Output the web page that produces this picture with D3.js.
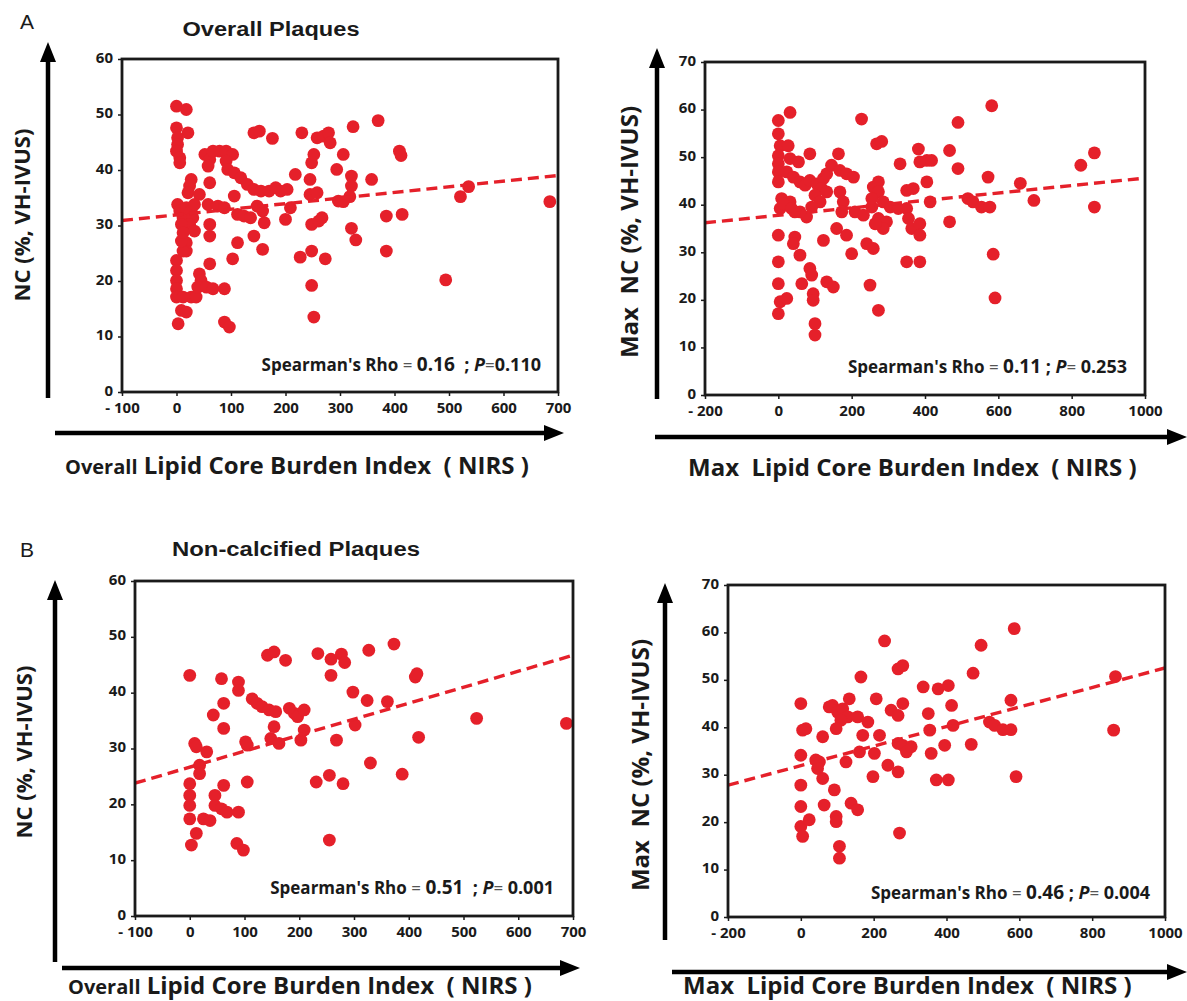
<!DOCTYPE html>
<html><head><meta charset="utf-8">
<script src="https://cdn.jsdelivr.net/npm/d3@7"></script>
<style>body{margin:0;background:#fff}svg{display:block}</style>
</head><body>
<script>
// ---------- DATA ----------
const panelLetters = ["A", "B"];
const panelTitles = ["Overall Plaques", "Non-calcified Plaques"];
const xTicksOverall = [-100, 0, 100, 200, 300, 400, 500, 600, 700];
const xTicksMax = [-200, 0, 200, 400, 600, 800, 1000];
const yTicksNC = [0, 10, 20, 30, 40, 50, 60];
const yTicksMaxNC = [0, 10, 20, 30, 40, 50, 60, 70];
const yLabels = ["NC (%, VH-IVUS)", "Max\u00a0 NC (%, VH-IVUS)"];
const xLabelPrefix = ["Overall", "Max"];
const xLabelMain = "Lipid Core Burden Index \u00a0( NIRS )";
const rhoValues = ["0.16", "0.11", "0.51", "0.46"];
const pValues = ["0.110", "0.253", "0.001", "0.004"];

// Overall plaques: overall LCBI vs NC %
const tlPoints = [[0,51.5],[18,50.9],[0,47.6],[21,46.7],[2,45.8],[2,44.6],[0,43.4],[6,42.2],[6,41.3],
[52,42.8],[61,41.9],[58,40.7],[67,43.4],[79,43.4],[91,43.4],[103,42.8],[91,41.6],[94,40.1],[106,39.5],[118,38.6],[130,37.4],[142,36.5],[155,36.2],[170,36.2],[182,36.8],[191,36.2],[203,36.5],[218,39.2],
[142,46.7],[152,47.0],[176,45.7],
[27,38.3],[24,37.1],[21,35.9],[42,35.6],[61,37.7],[58,33.8],[76,33.5],[88,33.2],[106,35.3],
[2,33.8],[6,32.6],[12,31.4],[18,33.2],[27,32.6],[33,33.8],[30,31.4],[24,30.2],[9,30.2],[33,29.0],[18,26.9],[18,25.4],[61,30.2],[61,28.1],
[112,32.0],[124,31.7],[136,31.4],[148,33.5],[158,32.6],[161,30.5],[142,28.1],[158,25.7],[112,26.9],[103,24.0],
[200,31.1],[209,33.2],[227,24.3],[248,25.4],[273,24.0],[248,19.2],[252,13.5],
[245,38.3],[248,41.3],[252,42.8],[230,46.7],[258,45.8],[270,46.1],[279,46.7],[282,44.9],[245,35.6],[258,35.9],[248,30.2],[261,30.8],[267,31.4],[297,34.4],[306,42.8],[294,40.1],
[0,23.7],[0,21.9],[0,20.1],[0,18.6],[0,17.1],[12,17.1],[27,17.1],[36,17.1],[9,14.7],[18,14.4],[3,12.3],
[42,21.3],[45,20.1],[39,18.9],[61,23.1],[55,18.9],[67,18.6],[88,18.6],[88,12.6],[97,11.7],[12,25.4],[9,27.2],[12,28.7],
[324,47.8],[370,48.9],[321,38.9],[321,37.1],[318,35.2],[306,34.3],[358,38.3],[409,43.4],[412,42.6],[385,31.7],[414,32.0],[321,29.5],[329,27.4],[385,25.4],[494,20.2],[521,35.2],[536,37.0],[685,34.3]];

// Overall plaques: max LCBI vs max NC %
const trPoints = [[0,57.7],[0,54.9],[5,52.4],[0,50.3],[0,48.6],[0,46.9],[0,44.8],[32,59.4],[27,52.4],[32,49.7],[55,49.0],[86,50.7],[23,46.9],[41,45.8],[59,44.8],[73,44.1],[86,45.1],[105,44.4],[123,45.5],[132,46.5],[145,48.3],[164,50.7],[168,47.2],[186,46.5],[205,45.8],[118,43.4],[132,42.7],[100,42.0],[114,40.6],[91,39.5],[77,37.4],[59,38.5],[45,38.5],[32,40.6],[9,41.3],[5,39.2],[14,40.2],[36,39.2],[168,42.7],[177,40.6],[173,38.5],[209,38.5],[232,37.8],[255,39.5],[259,43.7],[273,44.8],[273,42.7],[268,52.8],[282,53.3],[227,58.0],[255,41.3],[286,40.6],[305,39.5],[273,37.1],[295,36.4],[286,35.0],[264,36.0],[332,48.6],[327,39.2],[350,43.0],[368,43.4],[382,51.7],[386,49.0],[405,49.3],[418,49.3],[405,44.8],[414,40.6],[350,39.2],[355,37.1],[364,35.0],[386,36.0],[386,33.6],[350,28.0],[386,28.0],[0,33.6],[45,33.2],[41,31.8],[59,29.4],[123,32.5],[159,35.0],[186,33.6],[200,29.7],[241,31.8],[259,30.8],[0,28.0],[0,23.4],[64,23.4],[86,26.6],[91,25.2],[132,23.8],[150,22.7],[5,19.6],[23,20.3],[0,17.1],[95,21.3],[95,19.9],[250,23.1],[273,17.8],[100,15.0],[100,12.6],
[467,51.4],[490,47.6],[490,57.3],[467,36.4],[582,60.8],[572,45.8],[517,41.3],[531,40.6],[554,39.5],[577,39.5],[660,44.5],[697,40.9],[586,29.6],[591,20.4],[825,48.3],[862,50.9],[862,39.5]];

// Non-calcified plaques: overall LCBI vs NC %
const blPoints = [[0,43.1],[58,42.5],[62,38.1],[43,36.0],[62,33.6],[89,41.9],[89,40.4],[114,38.9],[123,38.1],[132,37.5],[145,36.9],[157,36.6],[182,37.2],[191,36.3],[197,35.7],[209,36.9],[142,46.7],[154,47.3],[175,45.8],[234,47.0],[258,46.0],[277,46.9],[283,45.4],[258,43.1],[298,40.1],[209,33.3],[203,31.5],[154,33.9],[148,31.8],[163,30.9],[268,31.5],[302,34.2],[102,31.2],[105,30.6],[9,30.9],[12,30.3],[31,29.4],[18,27.0],[18,25.5],[0,23.7],[0,21.6],[0,19.8],[0,17.4],[25,17.4],[37,17.1],[46,21.6],[46,19.8],[62,23.4],[58,19.2],[68,18.6],[89,18.6],[12,14.8],[3,12.7],[86,13.0],[98,11.8],[105,24.0],[231,24.0],[255,25.2],[280,23.7],[255,13.6],
[327,47.6],[373,48.7],[324,38.6],[361,38.4],[412,42.8],[415,43.4],[418,32.0],[330,27.4],[388,25.4],[524,35.4],[688,34.5]];

// Non-calcified plaques: max LCBI vs max NC %
const brPoints = [[0,45.0],[5,39.4],[14,39.7],[0,34.1],[0,27.8],[0,23.3],[0,19.1],[23,20.5],[5,17.0],[60,38.0],[41,33.1],[51,32.7],[46,31.3],[60,29.2],[64,23.6],[87,44.6],[78,44.3],[101,43.2],[115,43.9],[133,46.0],[129,42.2],[110,41.5],[97,39.7],[92,26.8],[97,21.2],[97,20.1],[106,14.9],[106,12.4],[124,32.7],[138,24.0],[156,22.6],[156,42.2],[184,41.1],[170,38.3],[161,34.8],[165,50.6],[207,46.0],[216,38.3],[202,34.5],[198,29.6],[239,32.0],[267,30.6],[230,58.2],[267,52.3],[280,53.0],[248,43.6],[267,42.5],[280,45.0],[267,36.6],[280,36.2],[290,34.8],[303,35.9],[271,17.7],[336,48.5],[350,42.9],[354,39.4],[358,34.5],[377,48.1],[405,48.8],[395,36.2],[414,44.6],[418,40.4],[372,28.9],[405,28.9],
[586,60.8],[495,57.3],[473,51.4],[468,36.4],[577,45.7],[518,41.1],[532,40.4],[555,39.5],[577,39.5],[591,29.6],[864,50.7],[859,39.4]];

// Regression lines (endpoints at the x-domain limits)
const tlFit = [[-100, 30.9], [700, 39.0]];
const trFit = [[-200, 36.2], [1000, 45.6]];
const blFit = [[-100, 23.8], [700, 46.7]];
const brFit = [[-200, 27.8], [1000, 52.5]];

// ---------- DRAWING ----------
const RED = "#e5202a";
const INK = "#1a1a1a";
const FONT = "'Open Sans', sans-serif";
const svg = d3.select("body").append("svg").attr("width", 1187).attr("height", 1001);
const defs = svg.append("defs");

function fmt(d) { return d < 0 ? "- " + Math.abs(d) : String(d); }

const panels = [
  { pts: tlPoints, fit: tlFit, xt: xTicksOverall, yt: yTicksNC, box: [122, 59, 558, 392],
    yArrow: [48, 398, 42], xArrow: [433, 55, 564], yLab: [30, 215, 0], xLab: [65, 474, 0],
    stat: [541, 371, 0] },
  { pts: trPoints, fit: trFit, xt: xTicksMax, yt: yTicksMaxNC, box: [705, 62, 1145, 395],
    yArrow: [657, 399, 48], xArrow: [437, 655, 1187], yLab: [638, 232, 1], xLab: [688, 476, 1],
    stat: [1127, 373, 1] },
  { pts: blPoints, fit: blFit, xt: xTicksOverall, yt: yTicksNC, box: [135, 581, 573, 916],
    yArrow: [55, 962, 580], xArrow: [968, 62, 580], yLab: [32, 752, 0], xLab: [68, 994, 0],
    stat: [554, 894, 2] },
  { pts: brPoints, fit: brFit, xt: xTicksMax, yt: yTicksMaxNC, box: [728, 585, 1165, 917],
    yArrow: [665, 940, 583], xArrow: [972, 672, 1187], yLab: [649, 765, 1], xLab: [683, 994, 1],
    stat: [1150, 899, 3] }
];

panels.forEach((p, i) => {
  const [x0, y0, x1, y1] = p.box;
  const xs = d3.scaleLinear().domain([p.xt[0], p.xt[p.xt.length - 1]]).range([x0, x1]);
  const ys = d3.scaleLinear().domain([p.yt[0], p.yt[p.yt.length - 1]]).range([y1, y0]);
  const g = svg.append("g");

  const cid = "clip" + i;
  defs.append("clipPath").attr("id", cid).append("rect")
    .attr("x", x0).attr("y", y0).attr("width", x1 - x0).attr("height", y1 - y0);

  // points
  g.append("g").attr("clip-path", `url(#${cid})`).selectAll("circle").data(p.pts).join("circle")
    .attr("cx", d => xs(d[0])).attr("cy", d => ys(d[1])).attr("r", 6.4)
    .attr("fill", RED);

  // fit line
  g.append("line").attr("clip-path", `url(#${cid})`)
    .attr("x1", xs(p.fit[0][0])).attr("y1", ys(p.fit[0][1]))
    .attr("x2", xs(p.fit[1][0])).attr("y2", ys(p.fit[1][1]))
    .attr("stroke", RED).attr("stroke-width", 3.4).attr("stroke-dasharray", "11,6");

  // axes
  const xa = g.append("g").attr("transform", `translate(0,${y1})`)
    .call(d3.axisBottom(xs).tickValues(p.xt).tickSize(4).tickFormat(fmt));
  const ya = g.append("g").attr("transform", `translate(${x0},0)`)
    .call(d3.axisLeft(ys).tickValues(p.yt).tickSize(4));
  [xa, ya].forEach(a => {
    a.select(".domain").remove();
    a.selectAll("line").attr("stroke", INK).attr("stroke-width", 1.5);
    a.selectAll("text").attr("fill", INK).attr("font-family", FONT)
      .attr("font-weight", 700).attr("font-size", 15);
  });
  xa.selectAll("text").attr("dy", "0.95em").attr("y", 7);
  ya.selectAll("text").attr("x", -9).attr("dy", "0.2em");

  // frame
  g.append("rect").attr("x", x0).attr("y", y0).attr("width", x1 - x0).attr("height", y1 - y0)
    .attr("fill", "none").attr("stroke", INK).attr("stroke-width", 2.8);

  // arrows
  const [ax, ayb, ayt] = p.yArrow;
  g.append("line").attr("x1", ax).attr("x2", ax).attr("y1", ayb).attr("y2", ayt + 14)
    .attr("stroke", "#000").attr("stroke-width", 4.5);
  g.append("path").attr("d", `M${ax},${ayt} L${ax - 8},${ayt + 20} L${ax + 8},${ayt + 20} Z`).attr("fill", "#000");
  const [bY, bxl, bxr] = p.xArrow;
  g.append("line").attr("x1", bxl).attr("x2", bxr - 14).attr("y1", bY).attr("y2", bY)
    .attr("stroke", "#000").attr("stroke-width", 4.5);
  g.append("path").attr("d", `M${bxr},${bY} L${bxr - 20},${bY - 8} L${bxr - 20},${bY + 8} Z`).attr("fill", "#000");

  // y label
  g.append("text").attr("transform", `translate(${p.yLab[0]},${p.yLab[1]}) rotate(-90)`)
    .attr("text-anchor", "middle").attr("font-family", FONT)
    .attr("font-weight", 700).attr("font-size", p.yLab[2] === 0 ? 22 : 24).attr("fill", INK)
    .text(yLabels[p.yLab[2]]);

  // x label
  const xl = g.append("text").attr("x", p.xLab[0]).attr("y", p.xLab[1])
    .attr("font-family", FONT).attr("font-weight", 700).attr("fill", INK);
  xl.append("tspan").attr("font-size", p.xLab[2] === 0 ? 20 : 24).text(xLabelPrefix[p.xLab[2]]);
  xl.append("tspan").attr("font-size", 24).text(p.xLab[2] === 0 ? " " + xLabelMain : "\u00a0 " + xLabelMain);

  // stats
  const si = p.stat[2];
  const st = g.append("text").attr("x", p.stat[0]).attr("y", p.stat[1]).attr("text-anchor", "end")
    .attr("font-family", FONT).attr("fill", INK).attr("font-weight", 700);
  st.append("tspan").attr("font-size", 17).text("Spearman's Rho");
  st.append("tspan").attr("font-size", 17).attr("font-weight", 400).attr("fill", "#555").text(" = ");
  st.append("tspan").attr("font-size", 19).text(rhoValues[si]);
  st.append("tspan").attr("font-size", 18).text(si === 0 || si === 2 ? "\u00a0 ; " : " ; ");
  st.append("tspan").attr("font-size", 18).attr("font-style", "italic").text("P");
  st.append("tspan").attr("font-size", 17).attr("font-weight", 400).attr("fill", "#555").text(si === 0 ? "=" : "= ");
  st.append("tspan").attr("font-size", 18).text(pValues[si]);
});

// panel letters and titles
const titleY = [36, 556];
const titleX = [271, 296];
const titleW = [177, 248];
panelLetters.forEach((L, i) => {
  svg.append("text").attr("x", 20).attr("y", i === 0 ? 29 : 557)
    .attr("font-family", "'Liberation Sans', Arial, sans-serif").attr("font-size", 21)
    .attr("fill", INK).text(L);
  svg.append("text").attr("x", titleX[i] - titleW[i] / 2).attr("y", titleY[i])
    .attr("textLength", titleW[i]).attr("lengthAdjust", "spacingAndGlyphs")
    .attr("font-family", "'Liberation Sans', Arial, sans-serif")
    .attr("font-weight", 700).attr("font-size", 20).attr("fill", INK).text(panelTitles[i]);
});
</script>
</body></html>
